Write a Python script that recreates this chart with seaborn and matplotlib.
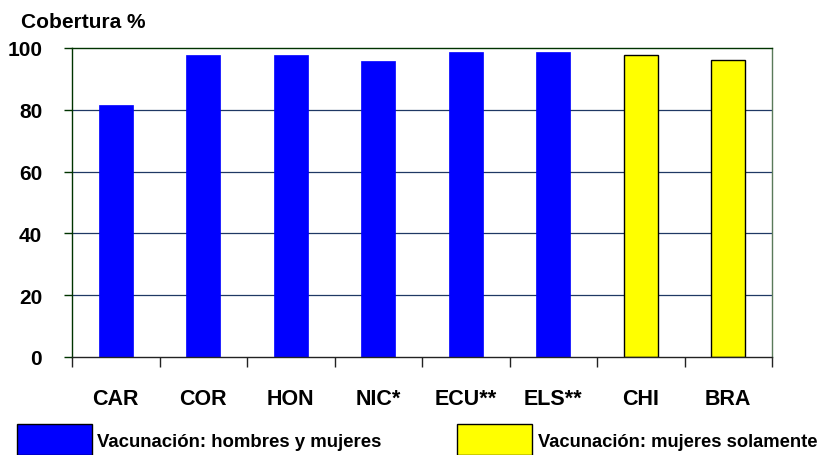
import pandas as pd
import numpy as np
import seaborn as sns
import matplotlib.pyplot as plt
from matplotlib.patches import Rectangle

categories = ["CAR", "COR", "HON", "NIC*", "ECU**", "ELS**", "CHI", "BRA"]
cobertura = [81.5, 97.7, 97.7, 95.8, 98.7, 98.7, 97.8, 96.0]
grupo = ["ambos"] * 6 + ["mujeres"] * 2
legend_labels = ["Vacunación: hombres y mujeres", "Vacunación: mujeres solamente"]
yticks = [0, 20, 40, 60, 80, 100]

DATA = pd.DataFrame({"Pais": categories, "Cobertura": cobertura, "Grupo": grupo})

sns.set_style("white")
plt.rcParams["font.family"] = ["Liberation Sans", "DejaVu Sans"]
plt.rcParams["font.weight"] = "bold"
plt.rcParams["text.color"] = "black"
plt.rcParams["xtick.color"] = "black"
plt.rcParams["ytick.color"] = "black"

fig = plt.figure(figsize=(8.25, 4.56), dpi=100)
ax = fig.add_axes([72 / 825, 1 - 358 / 456, 700 / 825, 309 / 456])

palette = {"ambos": "#0000FF", "mujeres": "#FFFF00"}
sns.barplot(data=DATA, x="Pais", y="Cobertura", hue="Grupo", palette=palette,
            dodge=False, width=0.39, legend=False, ax=ax, saturation=1)

# yellow bars get a black outline, blue ones none
for bar in ax.patches:
    if bar.get_facecolor()[2] < 0.5:
        bar.set_edgecolor("black")
        bar.set_linewidth(1)
    else:
        bar.set_edgecolor("#0000FF")
        bar.set_linewidth(0.5)

ax.set_xlim(-0.5, 7.5)
ax.set_ylim(0, 100)
ax.set_yticks(yticks)
ax.set_xlabel("")
ax.set_ylabel("")

for y in yticks[1:-1]:
    ax.axhline(y, color="#1F3864", linewidth=0.9, zorder=0)

ax.spines["top"].set_color("#003300")
ax.spines["left"].set_color("#003300")
ax.spines["right"].set_color("#5A7A5A")
ax.spines["bottom"].set_color("#222222")
for s in ax.spines.values():
    s.set_linewidth(1.0)
    s.set_visible(True)

ax.tick_params(axis="y", which="major", left=True, direction="out", length=6, width=1,
               color="#003300", labelcolor="black", pad=15.5, labelsize=15)
ax.set_xticks(np.arange(-0.5, 8, 1), minor=True)
ax.tick_params(axis="x", which="minor", bottom=True, direction="out", length=7, width=1,
               color="#222222")
ax.tick_params(axis="x", which="major", bottom=True, length=0, pad=22, labelsize=15.5,
               labelcolor="black")
for lab in ax.get_xticklabels() + ax.get_yticklabels():
    lab.set_fontweight("bold")

fig.text(21 / 825, 1 - 22 / 456, "Cobertura %", fontsize=15, fontweight="bold",
         va="center", ha="left", color="black")

# legend
fig.patches.append(Rectangle((17 / 825, 0), 75 / 825, 31 / 456, transform=fig.transFigure,
                             facecolor="#0000FF", edgecolor="black", linewidth=1))
fig.patches.append(Rectangle((457 / 825, 0), 75 / 825, 31 / 456, transform=fig.transFigure,
                             facecolor="#FFFF00", edgecolor="black", linewidth=1))
fig.text(97 / 825, 1 - 443 / 456, legend_labels[0], fontsize=13.4, fontweight="bold",
         va="center", ha="left", color="black")
fig.text(538 / 825, 1 - 443 / 456, legend_labels[1], fontsize=13.2, fontweight="bold",
         va="center", ha="left", color="black")

fig.savefig("out.png", dpi=100)
